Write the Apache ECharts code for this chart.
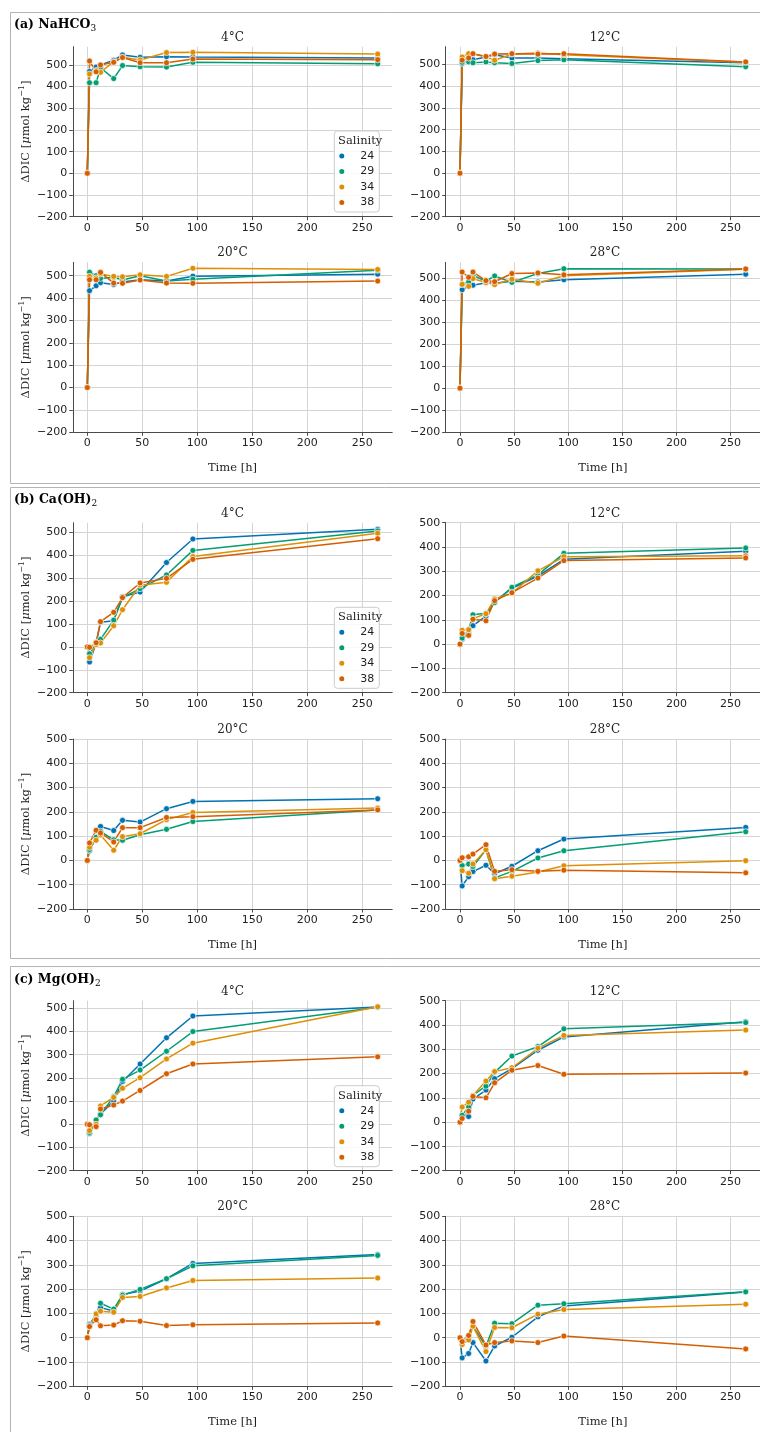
<!DOCTYPE html>
<html><head><meta charset="utf-8">
<script src="https://cdn.jsdelivr.net/npm/echarts@6/dist/echarts.min.js"></script>
<style>html,body{margin:0;padding:0;background:#fff}#c{width:760px;height:1432px}</style>
</head><body><div id="c"></div>
<script>
// ---- data ----
const times = [0, 2, 8, 12, 24, 32, 48, 72, 96, 264];
const salinities = ['24', '29', '34', '38'];
const xTicks = [0, 50, 100, 150, 200, 250];
const yTicks = [-200, -100, 0, 100, 200, 300, 400, 500];
const temps = ['4°C', '12°C', '20°C', '28°C'];

// (a) NaHCO3 : rows = salinity 24, 29, 34, 38
const nahco3_4C = [
  [0, 470, 490, 500, 522, 546, 535, 538, 537, 532],
  [0, 418, 418, 487, 437, 497, 492, 490, 512, 505],
  [0, 458, 474, 466, 515, 535, 523, 557, 558, 550],
  [0, 518, 468, 500, 512, 534, 510, 510, 527, 524]];
const nahco3_12C = [
  [0, 505, 520, 522, 535, 545, 530, 530, 527, 508],
  [0, 510, 512, 508, 512, 508, 505, 518, 522, 490],
  [0, 535, 550, 550, 535, 520, 548, 553, 545, 510],
  [0, 520, 530, 550, 537, 548, 550, 548, 550, 512]];
const nahco3_20C = [
  [0, 433, 455, 469, 461, 472, 482, 476, 498, 507],
  [0, 516, 500, 488, 493, 481, 500, 476, 484, 524],
  [0, 497, 490, 508, 497, 495, 504, 497, 533, 528],
  [0, 482, 482, 515, 467, 466, 481, 467, 466, 476]];
const nahco3_28C = [
  [0, 447, 462, 467, 478, 476, 485, 482, 492, 517],
  [0, 472, 482, 512, 485, 509, 480, 520, 542, 541],
  [0, 471, 462, 497, 479, 470, 494, 476, 510, 539],
  [0, 527, 503, 527, 488, 483, 520, 523, 514, 541]];
// (b) Ca(OH)2
const caoh2_4C = [
  [0, -66, 15, 108, 114, 219, 239, 368, 471, 513],
  [0, -30, 20, 33, 117, 215, 254, 314, 421, 506],
  [0, -47, 10, 17, 92, 162, 269, 282, 394, 496],
  [0, -2, 18, 110, 151, 215, 279, 299, 382, 472]];
const caoh2_12C = [
  [0, 20, 45, 76, 115, 175, 230, 280, 349, 382],
  [0, 25, 60, 121, 127, 171, 234, 285, 374, 396],
  [0, 57, 59, 105, 125, 186, 210, 302, 360, 364],
  [0, 44, 36, 102, 96, 179, 212, 272, 344, 355]];
const caoh2_20C = [
  [0, 40, 95, 140, 123, 165, 158, 213, 243, 254],
  [0, 45, 95, 120, 85, 83, 106, 128, 160, 208],
  [0, 54, 83, 105, 42, 98, 110, 168, 197, 216],
  [0, 72, 124, 113, 76, 135, 135, 177, 180, 208]];
const caoh2_28C = [
  [0, -105, -67, -46, -20, -55, -24, 40, 88, 136],
  [0, -21, -15, -25, 44, -72, -45, 10, 40, 118],
  [0, -42, -53, -15, 44, -75, -65, -48, -22, -1],
  [0, 11, 15, 26, 65, -45, -38, -45, -40, -51]];
// (c) Mg(OH)2
const mgoh2_4C = [
  [0, -40, 15, 45, 100, 185, 260, 373, 467, 506],
  [0, -35, 19, 41, 120, 194, 234, 315, 400, 505],
  [0, -27, 0, 79, 116, 155, 201, 282, 350, 507],
  [0, -2, -10, 66, 83, 100, 146, 218, 260, 291]];
const mgoh2_12C = [
  [0, 25, 23, 95, 132, 179, 220, 296, 351, 413],
  [0, 28, 62, 111, 148, 205, 272, 311, 384, 410],
  [0, 62, 82, 110, 169, 208, 224, 304, 357, 379],
  [0, 15, 45, 106, 100, 162, 214, 233, 197, 202]];
const mgoh2_20C = [
  [0, 55, 90, 124, 110, 178, 192, 243, 306, 343],
  [0, 50, 100, 142, 118, 175, 199, 243, 296, 339],
  [0, 45, 98, 109, 105, 166, 170, 205, 236, 246],
  [0, 46, 74, 49, 52, 70, 68, 50, 53, 61]];
const mgoh2_28C = [
  [0, -83, -65, -20, -96, -34, 2, 86, 131, 188],
  [0, -15, 0, 48, -35, 60, 58, 134, 140, 189],
  [0, -28, -9, 47, -57, 42, 41, 97, 116, 138],
  [0, -16, 9, 67, -30, -20, -13, -20, 7, -46]];

// ---- layout / style ----
const colors = ['#0173b2', '#029e73', '#de8f05', '#d55e00'];
const SERIF = 'DejaVu Serif';
const SANS = 'DejaVu Sans';
const panels = [
  { label: '(a) NaHCO', sub: '3', boxTop: 12.5, titleY: 24.5, rows: [46.7, 262.3], legendTop: 131,
    sets: [nahco3_4C, nahco3_12C, nahco3_20C, nahco3_28C], ymax: [584, 582, 560, 571] },
  { label: '(b) Ca(OH)', sub: '2', boxTop: 487.5, titleY: 500, rows: [522.7, 739], legendTop: 607.3,
    sets: [caoh2_4C, caoh2_12C, caoh2_20C, caoh2_28C], ymax: [542, 500, 500, 500] },
  { label: '(c) Mg(OH)', sub: '2', boxTop: 966.5, titleY: 979.5, rows: [1000.7, 1216.3], legendTop: 1085.7,
    sets: [mgoh2_4C, mgoh2_12C, mgoh2_20C, mgoh2_28C], ymax: [533, 500, 500, 500] }
];
const cols = [{ left: 72.8, width: 319.4 }, { left: 445.7, width: 318.6 }];
const PH = 170;
const spine = '#4a4a4a', gridc = '#d4d4d4', txt = '#1f1f1f';
const TICKFS = 11;

const grids = [], xAxes = [], yAxes = [], series = [], legends = [], elements = [];
let k = 0;
panels.forEach((p, pi) => {
  elements.push({ type: 'rect', silent: true, z: -10,
    shape: { x: 10.5, y: p.boxTop, width: 800, height: 471 },
    style: { fill: 'none', stroke: '#b4b4b4', lineWidth: 1 } });
  elements.push({ type: 'text', silent: true, x: 14, y: p.titleY, z: 50,
    style: { text: '{b|' + p.label + '}{s|' + p.sub + '}', textVerticalAlign: 'middle', fill: '#000',
      rich: { b: { fontFamily: SERIF, fontWeight: 'bold', fontSize: 12.5, lineHeight: 17, fill: '#000' },
              s: { fontFamily: SERIF, fontSize: 9, verticalAlign: 'bottom', lineHeight: 17, fill: '#000' } } } });
  p.sets.forEach((set, si) => {
    const col = cols[si % 2];
    const top = p.rows[Math.floor(si / 2)];
    const bottomRow = si >= 2, leftCol = si % 2 === 0;
    grids.push({ left: col.left, top: top, width: col.width, height: PH, containLabel: false });
    elements.push({ type: 'text', silent: true, x: col.left + col.width / 2, y: top - 9, z: 50,
      style: { text: temps[si], font: '12px "' + SERIF + '"', fill: txt, textAlign: 'center', textVerticalAlign: 'middle' } });
    xAxes.push({ gridIndex: k, type: 'value', min: -13.2, max: 277.2,
      name: bottomRow ? 'Time [h]' : '', nameLocation: 'middle', nameGap: 30,
      nameTextStyle: { fontFamily: SERIF, fontSize: 11.5, color: txt },
      axisLine: { show: true, onZero: false, lineStyle: { color: spine, width: 1 } },
      axisTick: { show: true, length: 3.5, customValues: xTicks, lineStyle: { color: spine, width: 1 } },
      axisLabel: { customValues: xTicks, fontFamily: SANS, fontSize: TICKFS, color: txt, margin: 5.5 },
      splitLine: { show: true, lineStyle: { color: gridc, width: 1 } } });
    yAxes.push({ gridIndex: k, type: 'value', min: -200, max: p.ymax[si],
      name: leftCol ? '{n|ΔDIC [}{i|μ}{n|mol kg}{s|−1}{n|]}' : '', nameLocation: 'middle', nameGap: 39, nameRotate: 90,
      nameTextStyle: { rich: {
        n: { fontFamily: SERIF, fontSize: 11.5, color: txt, lineHeight: 16 },
        i: { fontFamily: SERIF, fontStyle: 'italic', fontSize: 11.5, color: txt, lineHeight: 16 },
        s: { fontFamily: SERIF, fontSize: 8, color: txt, verticalAlign: 'top', lineHeight: 16 } } },
      axisLine: { show: true, onZero: false, lineStyle: { color: spine, width: 1 } },
      axisTick: { show: true, length: 3.5, customValues: yTicks, lineStyle: { color: spine, width: 1 } },
      axisLabel: { customValues: yTicks, fontFamily: SANS, fontSize: TICKFS, color: txt, margin: 5.5,
        formatter: v => (v < 0 ? '\u2212' + Math.abs(v) : String(v)) },
      splitLine: { show: true, lineStyle: { color: gridc, width: 1 } } });
    set.forEach((vals, j) => {
      series.push({ type: 'line', name: salinities[j], xAxisIndex: k, yAxisIndex: k,
        data: times.map((t, i) => [t, vals[i]]),
        symbol: 'circle', symbolSize: 6, showAllSymbol: true, color: colors[j],
        lineStyle: { width: 1.5, color: colors[j] },
        itemStyle: { color: colors[j], borderColor: '#fff', borderWidth: 0.7 },
        emphasis: { disabled: true }, z: 2 });
    });
    k++;
  });
  legends.push({ data: salinities, orient: 'vertical', left: 334.3, top: p.legendTop,
    icon: 'circle', itemWidth: 23, itemHeight: 7, itemGap: 2.5, selectedMode: false,
    padding: [18.5, 5, 3, 3], backgroundColor: 'rgba(255,255,255,0.85)', borderColor: '#cccccc', borderWidth: 1, borderRadius: 3,
    textStyle: { fontFamily: SANS, fontSize: TICKFS, color: txt, lineHeight: 13, padding: [0, 0, 0, 2] }, z: 20 });
  elements.push({ type: 'text', silent: true, x: 360.2, y: p.legendTop + 10, z: 100,
    style: { text: 'Salinity', font: '11.5px "' + SERIF + '"', fill: txt, textAlign: 'center', textVerticalAlign: 'middle' } });
});

const chart = echarts.init(document.getElementById('c'), null, { renderer: 'canvas' });
chart.setOption({ animation: false, backgroundColor: '#fff',
  grid: grids, xAxis: xAxes, yAxis: yAxes, series: series, legend: legends,
  graphic: { elements: elements } });
</script></body></html>
